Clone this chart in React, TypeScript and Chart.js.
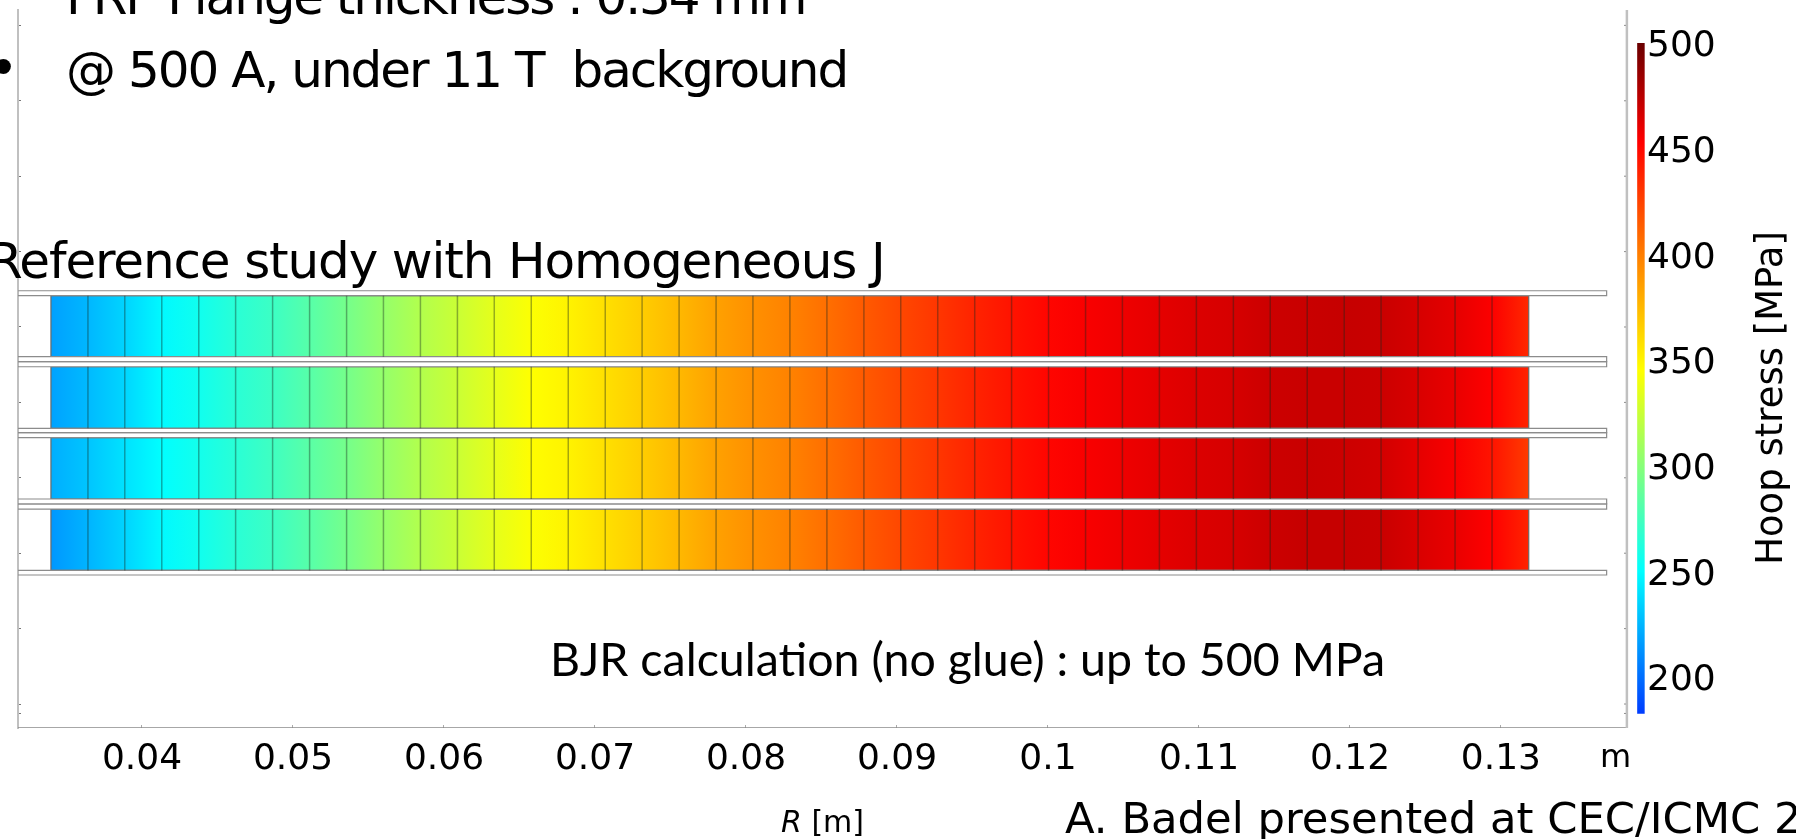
import React, { useEffect, useRef } from "react";
import { Chart, registerables } from "chart.js";

Chart.register(...registerables);

const W = 1796;
const H = 839;

// R of each turn boundary [m]
const turnEdges = [
  0.03397, 0.03642, 0.03886, 0.04131, 0.04376, 0.0462, 0.04865, 0.0511, 0.05355, 0.05599,
  0.05844, 0.06089, 0.06333, 0.06578, 0.06823, 0.07068, 0.07312, 0.07557, 0.07802, 0.08046,
  0.08291, 0.08536, 0.08781, 0.09025, 0.0927, 0.09515, 0.09759, 0.10004, 0.10249, 0.10493,
  0.10738, 0.10983, 0.11228, 0.11472, 0.11717, 0.11962, 0.12206, 0.12451, 0.12696, 0.12941, 0.13184,
];

// Hoop stress [MPa] at each turn boundary, one list per pancake, top to bottom
const hoopRow1 = [
  217, 225, 235, 248, 256, 265, 272, 282, 293, 305, 316, 325, 335, 344, 350, 358, 366, 375, 385, 392,
  398, 406, 415, 423, 430, 438, 445, 451, 455, 458, 461, 464, 466, 469, 470, 471, 470, 466, 461, 454, 436,
];
const hoopRow2 = [
  218, 226, 236, 249, 256, 265, 272, 282, 293, 305, 316, 325, 335, 345, 350, 358, 366, 375, 385, 392,
  398, 406, 415, 423, 430, 438, 445, 451, 455, 458, 461, 464, 466, 469, 470, 470, 469, 465, 460, 453, 438,
];
const hoopRow3 = [
  222, 230, 240, 250, 257, 265, 273, 283, 293, 305, 316, 325, 335, 346, 350, 358, 366, 375, 385, 392,
  398, 406, 415, 423, 430, 438, 445, 451, 455, 458, 461, 464, 466, 469, 470, 469, 467, 461, 455, 445, 428,
];
const hoopRow4 = [
  214, 224, 235, 248, 256, 265, 272, 282, 293, 305, 316, 325, 335, 344, 350, 358, 366, 375, 385, 392,
  398, 406, 415, 423, 430, 438, 445, 451, 455, 458, 461, 464, 466, 469, 471, 471, 470, 465, 460, 453, 438,
];
const hoopRows = [hoopRow1, hoopRow2, hoopRow3, hoopRow4];

// [bottom, top] of the pancakes, in y-axis units
const rowBands = [
  [4.606, 5.415],
  [3.656, 4.473],
  [2.719, 3.534],
  [1.772, 2.586],
];
// [bottom, top] of the FRP flanges
const flangeBands = [
  [5.415, 5.481],
  [4.54, 4.606],
  [4.473, 4.54],
  [3.598, 3.656],
  [3.534, 3.598],
  [2.653, 2.719],
  [2.586, 2.653],
  [1.711, 1.772],
];
const flangeEndR = 0.137;

// Rainbow colour table
const rampValues = [182.6, 250, 297, 345, 453, 500];
const rampColors = [
  [0, 60, 255],
  [0, 255, 255],
  [128, 255, 128],
  [255, 255, 0],
  [255, 0, 0],
  [105, 0, 0],
];

const xTicks = [0.04, 0.05, 0.06, 0.07, 0.08, 0.09, 0.1, 0.11, 0.12, 0.13];
const yTicks = [-0.125, 0, 1, 2, 3, 4, 5, 6, 7, 8, 9];
const colorTicks = [200, 250, 300, 350, 400, 450, 500];

const xMin = 0.031788;
const xMax = 0.13954;
const frameRight = 0.13834;
const barR = 0.13927;
const yMin = -0.318;
const yMax = 9.204;
const stressMin = 175.86;
const stressMax = 515.62;
const barMin = 182.6;
const barMax = 500;

const textBullet = "•";
const textFlange = "FRP Flange thickness : 0.34 mm";
const textCurrent = "@ 500 A, under 11 T  background";
const textStudy = "Reference study with Homogeneous J";
const textBjr = "BJR calculation (no glue) : up to 500 MPa";
const textCredit = "A. Badel presented at CEC/ICMC 2";
const textBarTitle = "Hoop stress [MPa]";
const textAxisR = "R";
const textAxisUnit = " [m]";
const textUnit = "m";

function stressColor(v: number) {
  let i = 0;
  while (i < rampValues.length - 2 && v > rampValues[i + 1]) i++;
  const t = Math.max(0, Math.min(1, (v - rampValues[i]) / (rampValues[i + 1] - rampValues[i])));
  const c = rampColors[i].map((a, k) => Math.round(a + (rampColors[i + 1][k] - a) * t));
  return `rgb(${c[0]},${c[1]},${c[2]})`;
}

function box(x0: number, x1: number, y0: number, y1: number) {
  return [
    { x: x0, y: y0 },
    { x: x1, y: y0 },
    { x: x1, y: y1 },
    { x: x0, y: y1 },
    { x: x0, y: y0 },
  ];
}

const line = { showLine: true, pointRadius: 0, tension: 0, fill: false };

function buildDatasets() {
  const out: any[] = [];

  // colour bar on the stress axis
  out.push({
    ...line,
    yAxisID: "y2",
    borderWidth: 7.5,
    borderCapStyle: "butt",
    borderColor: (ctx: any) => {
      const { chart } = ctx;
      const s = chart.scales.y2;
      if (!chart.chartArea || !s) return "#888";
      const g = chart.ctx.createLinearGradient(
        0,
        s.getPixelForValue(barMin),
        0,
        s.getPixelForValue(barMax)
      );
      rampValues.forEach((v, i) => {
        g.addColorStop((v - barMin) / (barMax - barMin), stressColor(v));
      });
      return g;
    },
    data: [
      { x: barR, y: barMin },
      { x: barR, y: barMax },
    ],
  });

  // frame: right and bottom sides
  out.push({
    ...line,
    borderColor: "#c0c0c0",
    borderWidth: 2.5,
    data: [
      { x: frameRight, y: yMin },
      { x: frameRight, y: yMax },
    ],
  });
  out.push({
    ...line,
    borderColor: "#8a8a8a",
    borderWidth: 1.5,
    data: [
      { x: xMin, y: yMin },
      { x: frameRight, y: yMin },
    ],
  });
  // right-hand tick marks
  const rt: any[] = [];
  yTicks.forEach((t) => {
    rt.push({ x: frameRight - 0.00018, y: t }, { x: frameRight, y: t }, { x: NaN, y: NaN });
  });
  out.push({ ...line, borderColor: "#777", borderWidth: 1, data: rt });

  // turn separators
  rowBands.forEach(([b, t]) => {
    const pts: any[] = [];
    turnEdges.slice(1, -1).forEach((r) => {
      pts.push({ x: r, y: b }, { x: r, y: t }, { x: NaN, y: NaN });
    });
    out.push({ ...line, borderColor: "rgba(20,40,30,0.38)", borderWidth: 1.5, data: pts });
  });

  // flanges
  flangeBands.forEach(([b, t]) => {
    out.push({
      ...line,
      fill: "shape",
      backgroundColor: "#ffffff",
      borderColor: "#8c8c8c",
      borderWidth: 1.2,
      data: box(xMin, flangeEndR, b, t),
    });
  });

  // pancakes
  rowBands.forEach(([b, t], idx) => {
    const vals = hoopRows[idx];
    out.push({
      ...line,
      fill: "shape",
      borderColor: "#6a6a6a",
      borderWidth: 1.2,
      backgroundColor: (ctx: any) => {
        const { chart } = ctx;
        const s = chart.scales.x;
        if (!chart.chartArea || !s) return "#888";
        const first = turnEdges[0];
        const last = turnEdges[turnEdges.length - 1];
        const g = chart.ctx.createLinearGradient(s.getPixelForValue(first), 0, s.getPixelForValue(last), 0);
        turnEdges.forEach((r, i) => {
          g.addColorStop((r - first) / (last - first), stressColor(vals[i]));
        });
        return g;
      },
      data: box(turnEdges[0], turnEdges[turnEdges.length - 1], b, t),
    });
  });
  return out;
}

const textPlugin = {
  id: "slideText",
  afterDraw(chart: any) {
    const c = chart.ctx as any;
    const put = (txt: string, x: number, y: number, font: string, spacing = 0, color = "#000") => {
      c.save();
      c.font = font;
      c.fillStyle = color;
      c.textAlign = "left";
      c.textBaseline = "alphabetic";
      c.letterSpacing = `${spacing}px`;
      c.fillText(txt, x, y);
      c.restore();
    };
    const hand = '"DejaVu Sans", sans-serif';
    put(textFlange, 66, 14, `50px ${hand}`, -2.1);
    put(textCurrent, 66, 87, `50px ${hand}`, -2);
    put(textBullet, -12, 86, `52px ${hand}`);
    put(textStudy, -12, 278, `50px ${hand}`, -1.15);
    put(textBjr, 550, 676, "46.5px Lato, sans-serif");
    put(textCredit, 1065, 833, `43.3px ${hand}`);
    put(textUnit, 1600, 767, '32px "DejaVu Sans", sans-serif');

    const sans = '"DejaVu Sans", sans-serif';
    put(textAxisR, 781, 832, `italic 30px ${sans}`);
    c.save();
    c.font = `italic 30px ${sans}`;
    const w = c.measureText(textAxisR).width;
    c.restore();
    put(textAxisUnit, 781 + w, 832, `30px ${sans}`);

    c.save();
    c.translate(1782, 398);
    c.rotate(-Math.PI / 2);
    c.font = `37px ${sans}`;
    c.fillStyle = "#000";
    c.textAlign = "center";
    c.textBaseline = "alphabetic";
    c.fillText(textBarTitle, 0, 0);
    c.restore();
  },
};

export default function App() {
  const ref = useRef<HTMLCanvasElement>(null);
  useEffect(() => {
    const chart = new Chart(ref.current as HTMLCanvasElement, {
      type: "scatter",
      data: { datasets: buildDatasets() },
      plugins: [textPlugin],
      options: {
        animation: false,
        responsive: false,
        devicePixelRatio: 1,
        layout: { padding: { top: 10, left: 0, right: 0, bottom: 0 } },
        plugins: { legend: { display: false }, tooltip: { enabled: false }, title: { display: false } },
        scales: {
          x: {
            type: "linear",
            min: xMin,
            max: xMax,
            border: { display: false },
            grid: { drawOnChartArea: false, tickLength: -3, color: "#aaa", tickColor: "#aaa" },
            afterBuildTicks: (s: any) => {
              s.ticks = xTicks.map((v) => ({ value: v }));
            },
            afterFit: (s: any) => {
              s.height = H - 728;
              s.paddingLeft = 0;
              s.paddingRight = 0;
            },
            ticks: {
              autoSkip: false,
              maxRotation: 0,
              color: "#000",
              padding: 13,
              font: { family: '"DejaVu Sans", sans-serif', size: 36 },
              callback: (v: any) => String(Number(v).toFixed(2)).replace(/0$/, ""),
            },
          },
          y: {
            type: "linear",
            position: "left",
            min: yMin,
            max: yMax,
            border: { display: true, color: "#c0c0c0", width: 2 },
            grid: { drawOnChartArea: false, tickLength: -3, color: "#777", tickColor: "#777" },
            afterBuildTicks: (s: any) => {
              s.ticks = yTicks.map((v) => ({ value: v }));
            },
            afterFit: (s: any) => {
              s.width = 18;
              s.paddingTop = 0;
              s.paddingBottom = 0;
            },
            ticks: { display: false },
          },
          y2: {
            type: "linear",
            position: "right",
            min: stressMin,
            max: stressMax,
            border: { display: false },
            grid: { display: false, drawOnChartArea: false, drawTicks: false },
            afterBuildTicks: (s: any) => {
              s.ticks = colorTicks.map((v) => ({ value: v }));
            },
            afterFit: (s: any) => {
              s.width = W - 1645;
              s.paddingTop = 0;
              s.paddingBottom = 0;
            },
            ticks: {
              color: "#000",
              padding: 2,
              autoSkip: false,
              labelOffset: 4,
              font: { family: '"DejaVu Sans", sans-serif', size: 36 },
            },
          },
        },
      } as any,
    });
    return () => chart.destroy();
  }, []);
  return (
    <canvas
      ref={ref}
      width={W}
      height={H}
      style={{ position: "fixed", left: 0, top: 0, width: W, height: H, background: "#fff" }}
    />
  );
}
